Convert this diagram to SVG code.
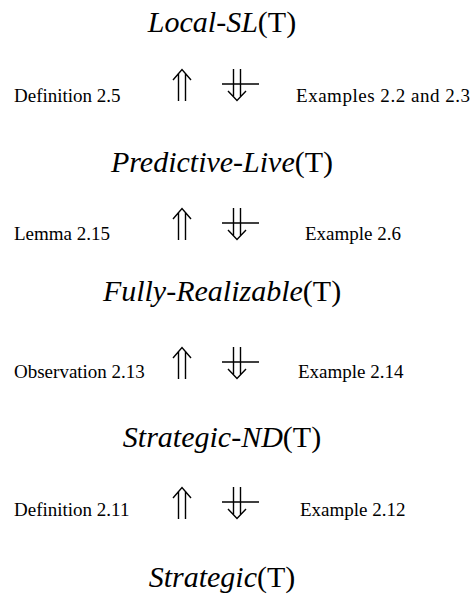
<svg xmlns="http://www.w3.org/2000/svg" width="472" height="597" viewBox="0 0 472 597">
  <defs>
    <style>
      .title { font-family: "Liberation Serif", "Times New Roman", serif; font-size: 30px; fill: #000; }
      .title .it { font-style: italic; }
      .label { font-family: "Liberation Serif", "Times New Roman", serif; font-size: 19px; fill: #000; }
      .arr { fill: none; stroke: #000; stroke-width: 1.4; stroke-linecap: butt; stroke-linejoin: miter; }
    </style>
    <!-- double up arrow (implies) -->
    <g id="up">
      <path class="arr" d="M178.5,4 V32 M185.5,4 V32 M173,11 L182,0.5 L191,11"/>
    </g>
    <!-- double down arrow struck through (does not imply) -->
    <g id="down">
      <path class="arr" d="M233.5,0 V28 M240.5,0 V28 M228,22 L237,31.5 L246,22 M222,15 H259"/>
    </g>
  </defs>

  <g id="node-local-sl">
    <text class="title" x="222" y="32" text-anchor="middle"><tspan class="it">Local-SL</tspan>(T)</text>
  </g>
  <g id="node-predictive-live">
    <text class="title" x="222" y="172" text-anchor="middle"><tspan class="it">Predictive-Live</tspan>(T)</text>
  </g>
  <g id="node-fully-realizable">
    <text class="title" x="222" y="301" text-anchor="middle"><tspan class="it">Fully-Realizable</tspan>(T)</text>
  </g>
  <g id="node-strategic-nd">
    <text class="title" x="222" y="447" text-anchor="middle"><tspan class="it">Strategic-ND</tspan>(T)</text>
  </g>
  <g id="node-strategic">
    <text class="title" x="222" y="587" text-anchor="middle"><tspan class="it">Strategic</tspan>(T)</text>
  </g>

  <g id="connectors">
    <use href="#up" transform="translate(0,69)"/>
    <use href="#down" transform="translate(0,69)"/>
    <use href="#up" transform="translate(0,208)"/>
    <use href="#down" transform="translate(0,208)"/>
    <use href="#up" transform="translate(0,347)"/>
    <use href="#down" transform="translate(0,347)"/>
    <use href="#up" transform="translate(0,487)"/>
    <use href="#down" transform="translate(0,487)"/>

    <text class="label" x="14" y="102">Definition 2.5</text>
    <text class="label" x="296" y="102" textLength="174" lengthAdjust="spacing">Examples 2.2 and 2.3</text>
    <text class="label" x="14" y="240">Lemma 2.15</text>
    <text class="label" x="305" y="240">Example 2.6</text>
    <text class="label" x="14" y="378">Observation 2.13</text>
    <text class="label" x="298" y="378">Example 2.14</text>
    <text class="label" x="14" y="516">Definition 2.11</text>
    <text class="label" x="300" y="516">Example 2.12</text>
  </g>
</svg>
